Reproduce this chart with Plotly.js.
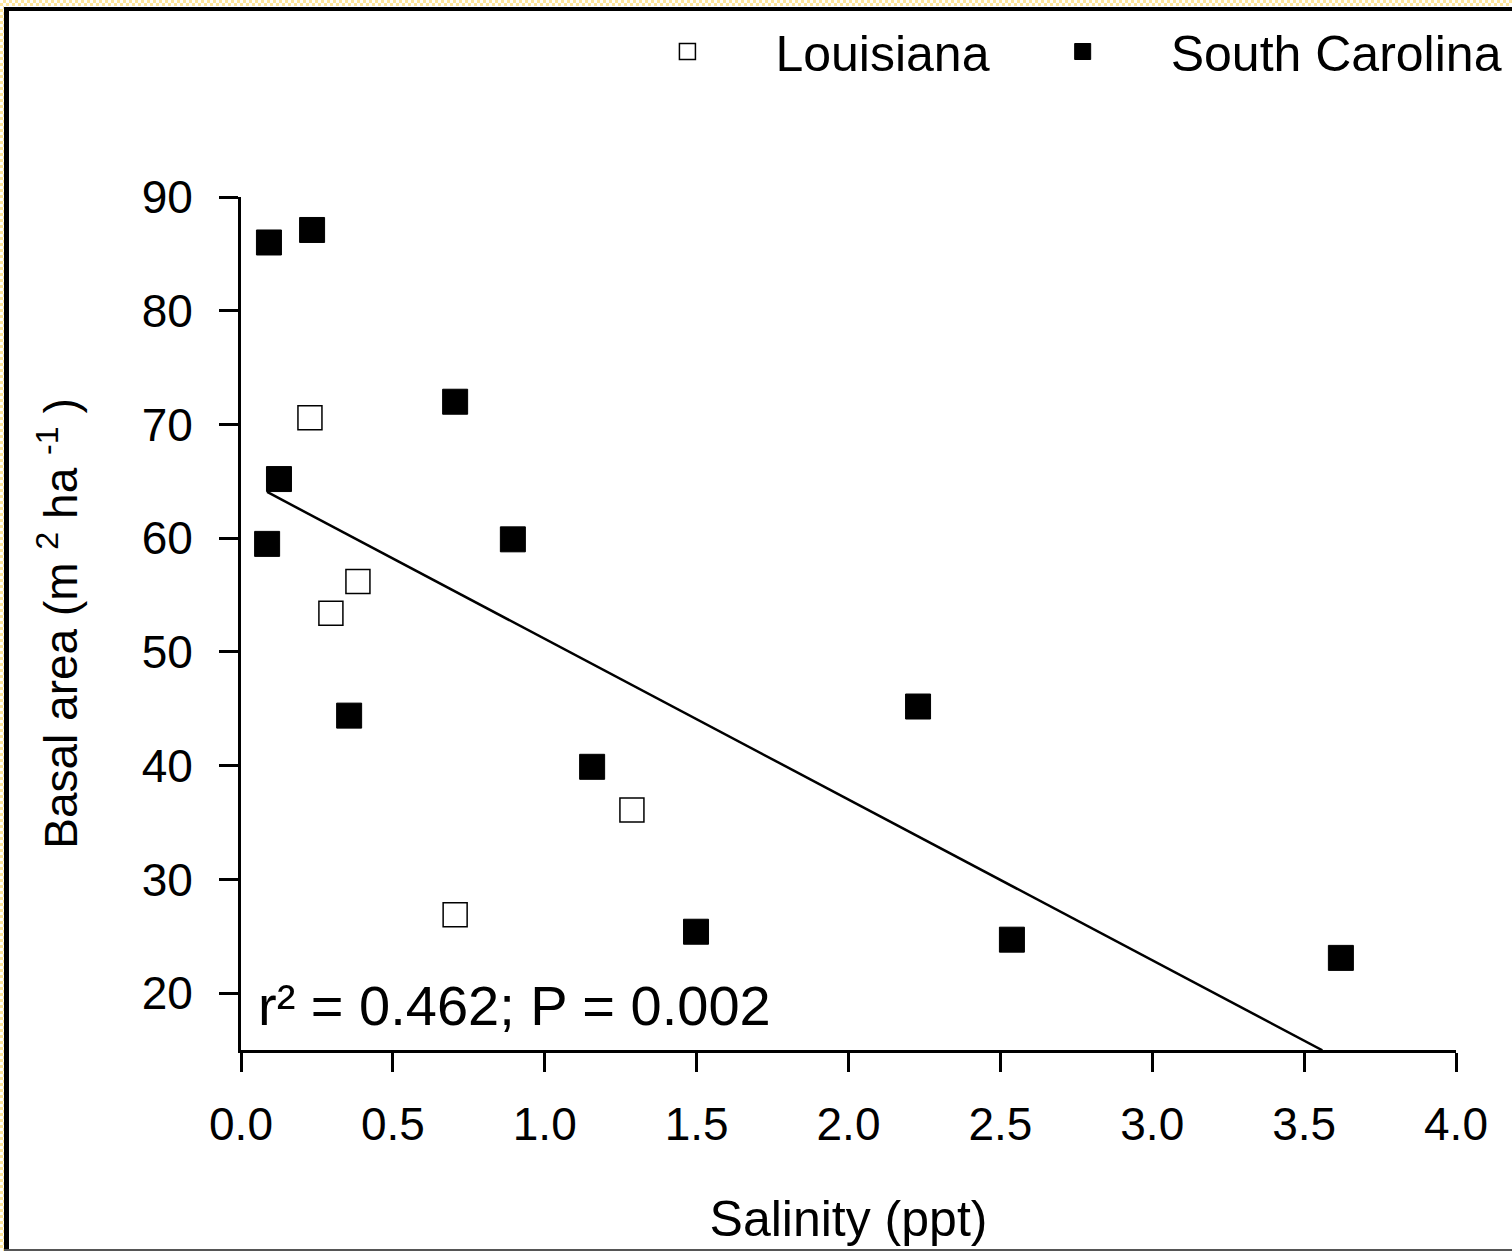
<!DOCTYPE html>
<html>
<head>
<meta charset="utf-8">
<script src="https://cdn.plot.ly/plotly-3.0.1.min.js"></script>
<style>
  html, body { margin: 0; padding: 0; background: #fff; }
  #wrap { position: relative; width: 1512px; height: 1251px; overflow: hidden; }
  #chart { position: absolute; left: 0; top: 0; width: 1512px; height: 1251px; }
  .ov { position: absolute; pointer-events: none; }
  #ytop { left: 0; top: 0; width: 1512px; height: 6px;
    background: repeating-conic-gradient(#fde49a 0% 25%, #ffffff 0% 50%) 0 0 / 6px 6px; }
  #yleft { left: 0; top: 0; width: 4px; height: 1251px;
    background: repeating-conic-gradient(#fde49a 0% 25%, #ffffff 0% 50%) 0 0 / 6px 6px; }
  #btop { left: 4px; top: 7px; width: 1508px; height: 4px; background: #000; }
  #bleft { left: 4px; top: 7px; width: 5px; height: 1244px; background: #000; }
  #bbot { left: 4px; top: 1249px; width: 1508px; height: 2px; background: #555; }
</style>
</head>
<body>
<div id="wrap">
  <div id="chart"></div>
  <div class="ov" id="ytop"></div>
  <div class="ov" id="yleft"></div>
  <div class="ov" id="btop"></div>
  <div class="ov" id="bleft"></div>
  <div class="ov" id="bbot"></div>
</div>
<script>
// Data
const louisianaSalinity = [0.227, 0.385, 0.296, 1.287, 0.705];
const louisianaBasal    = [70.6, 56.2, 53.4, 36.1, 26.9];

const carolinaSalinity = [0.092, 0.234, 0.705, 0.125, 0.086, 0.895, 0.356, 1.156, 2.229, 1.498, 2.538, 3.621];
const carolinaBasal    = [86.0, 87.1, 72.0, 65.2, 59.5, 59.9, 44.4, 39.9, 45.2, 25.4, 24.7, 23.1];

// Regression line (as drawn): intercept, slope, x extent
const fitIntercept = 65.28;
const fitSlope = -14.13;
const fitXRange = [0.086, 3.56];

const xTicks = [0.0, 0.5, 1.0, 1.5, 2.0, 2.5, 3.0, 3.5, 4.0];
const xTickLabels = ['0.0', '0.5', '1.0', '1.5', '2.0', '2.5', '3.0', '3.5', '4.0'];
const yTicks = [20, 30, 40, 50, 60, 70, 80, 90];

const statText = 'r² = 0.462; P = 0.002';

const FONT = 'Liberation Sans, Arial, Helvetica, sans-serif';

const fitY = fitXRange.map(x => fitIntercept + fitSlope * x);

const traces = [
  {
    x: fitXRange, y: fitY, mode: 'lines', type: 'scatter',
    line: {color: '#000', width: 2.5}, showlegend: false, hoverinfo: 'skip', cliponaxis: false
  },
  {
    x: louisianaSalinity, y: louisianaBasal, mode: 'markers', type: 'scatter',
    name: 'Louisiana',
    marker: {symbol: 'square', size: 24, color: '#fff', line: {color: '#000', width: 1.5}},
    cliponaxis: false
  },
  {
    x: carolinaSalinity, y: carolinaBasal, mode: 'markers', type: 'scatter',
    name: 'South Carolina',
    marker: {symbol: 'square', size: 25, color: '#000', line: {color: '#000', width: 1}},
    cliponaxis: false
  }
];

const layout = {
  width: 1512, height: 1251,
  paper_bgcolor: '#fff', plot_bgcolor: '#fff',
  margin: {l: 241, r: 56, t: 197, b: 201, pad: 0},
  font: {family: FONT, color: '#000', size: 46},
  showlegend: true,
  legend: {
    orientation: 'h', x: 0.295, xanchor: 'left', y: 0.99, yanchor: 'top',
    xref: 'paper', yref: 'container',
    font: {family: FONT, size: 50, color: '#000'},
    itemwidth: 166,
    bgcolor: 'rgba(0,0,0,0)', traceorder: 'normal'
  },
  xaxis: {
    range: [0, 4], tickvals: xTicks, ticktext: xTickLabels,
    showgrid: false, zeroline: false, showline: true, linecolor: '#000', linewidth: 3,
    ticks: 'outside', ticklen: 19, tickwidth: 3, tickcolor: '#000',
    tickfont: {family: FONT, size: 46}, ticklabelstandoff: 13,
    title: {text: 'Salinity (ppt)', font: {family: FONT, size: 50}, standoff: 52}
  },
  yaxis: {
    range: [15, 90], tickvals: yTicks,
    showgrid: false, zeroline: false, showline: true, linecolor: '#000', linewidth: 3,
    ticks: 'outside', ticklen: 19, tickwidth: 3, tickcolor: '#000',
    tickfont: {family: FONT, size: 46}, ticklabelstandoff: 17,
    title: {text: 'Basal area (m <sup>2</sup> ha <sup>-1</sup> )', font: {family: FONT, size: 46}, standoff: 50}
  },
  annotations: [
    {
      text: statText, xref: 'paper', yref: 'y', x: 0.012, y: 18.9,
      xanchor: 'left', yanchor: 'middle', showarrow: false,
      font: {family: FONT, size: 56, color: '#000'}
    }
  ]
};

Plotly.newPlot('chart', traces, layout, {displayModeBar: false, staticPlot: true});
</script>
</body>
</html>
